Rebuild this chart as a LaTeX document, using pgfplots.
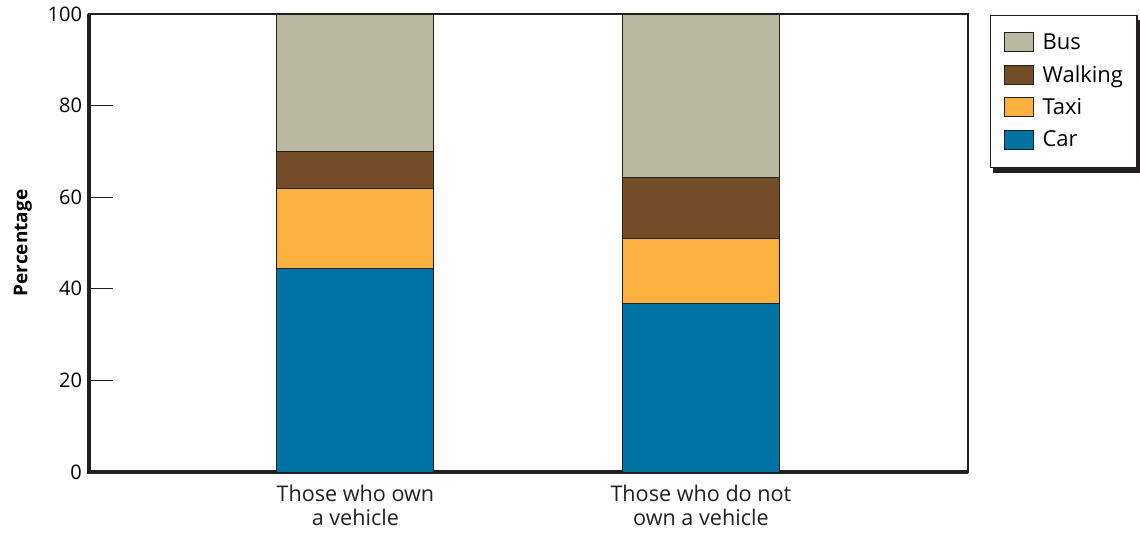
\documentclass[border=0pt]{standalone}
\usepackage{pgfplots}
\pgfplotsset{compat=1.18}
\usetikzlibrary{calc}
\usepackage{fontspec}
\setmainfont{Open Sans}
\definecolor{carc}{RGB}{0,114,163}
\definecolor{taxic}{RGB}{251,176,64}
\definecolor{walkc}{RGB}{115,76,40}
\definecolor{busc}{RGB}{185,184,160}
\definecolor{axc}{RGB}{35,31,32}
\begin{document}
\begin{tikzpicture}
\path[use as bounding box] (0,0) rectangle (570pt,268.5pt);
\begin{axis}[
  at={(44.5pt,32.5pt)}, anchor=south west,
  scale only axis, width=439.5pt, height=229pt,
  ybar stacked, bar width=78.5pt,
  xmin=-0.771, xmax=1.773, ymin=0, ymax=100,
  xtick={0,1}, xticklabels={{Those who own\\a vehicle},{Those who do not\\own a vehicle}},
  xticklabel style={align=center, font=\fontsize{10.8}{12}\selectfont, text=axc, yshift=-3pt},
  major x tick style={draw=none},
  ytick={0,20,...,100}, ytick pos=left,
  tick align=inside, major tick length=12pt,
  ytick style={draw=axc, line width=0.6pt},
  yticklabel style={font=\fontsize{10}{12}\selectfont, text=black},
  /pgf/number format/assume math mode=true,
  axis line style={draw=axc, line width=0.7pt},
  ylabel={\bfseries Percentage},
  ylabel style={font=\fontsize{9.5}{11}\selectfont, yshift=1pt},
  clip=false,
  reverse legend,
  legend style={name=leg, at={(1.025,0.998)}, anchor=north west, draw=axc, line width=0.6pt,
    font=\fontsize{11}{12}\selectfont, inner xsep=5pt, inner ysep=7pt, row sep=2.6pt,
    cells={anchor=west}},
  legend image code/.code={\draw[#1, draw=axc, line width=0.5pt] (2pt,-4.5pt) rectangle (16.5pt,5pt);
     \path[draw=none, fill=none] (0pt,0pt) (19pt,0pt);},
  every axis plot/.append style={draw=axc, line width=0.5pt},
]
\addplot[fill=carc] coordinates {(0,44.5) (1,36.7)};
\addplot[fill=taxic] coordinates {(0,17.5) (1,14.2)};
\addplot[fill=walkc] coordinates {(0,7.9) (1,13.5)};
\addplot[fill=busc] coordinates {(0,30.1) (1,35.6)};
\legend{Car,Taxi,Walking,Bus}
\draw[axc, line width=2pt] (rel axis cs:0,1) -- (rel axis cs:0,0) -- (rel axis cs:1,0);
\end{axis}
\fill[axc] ($(leg.south west)+(1.5pt,0pt)$) rectangle ($(leg.south east)+(1.5pt,-2.5pt)$);
\fill[axc] ($(leg.north east)+(0pt,-2.5pt)$) rectangle ($(leg.south east)+(1.5pt,-2.5pt)$);
\end{tikzpicture}
\end{document}
